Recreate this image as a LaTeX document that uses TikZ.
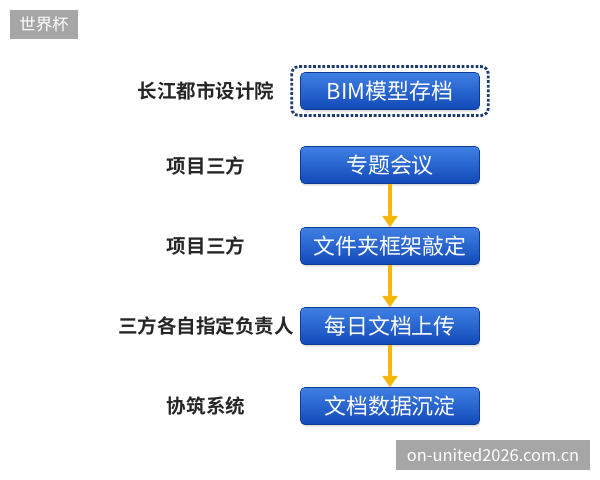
\documentclass[tikz,border=0pt]{standalone}
\usepackage{fontspec}
\setmainfont{Noto Sans CJK SC}[BoldFont={Noto Sans CJK SC Bold}]
\usetikzlibrary{arrows.meta,shadows}
\definecolor{boxtop}{HTML}{3F80E4}
\definecolor{boxbot}{HTML}{1249B8}
\definecolor{dotline}{HTML}{1D3C72}
\definecolor{flow}{HTML}{F5B70A}
\definecolor{tag}{HTML}{A6A6A6}
\tikzset{
  stepbox/.style={rounded corners=3pt, top color=boxtop, bottom color=boxbot,
    draw=boxbot!80!black, line width=0.4pt, text=white, font=\fontsize{15.6}{18}\selectfont,
    minimum width=4.475cm, minimum height=0.925cm, inner sep=0pt,
    drop shadow={shadow xshift=0.5pt, shadow yshift=-1.5pt, opacity=0.25}},
  who/.style={font=\bfseries\fontsize{13.9}{16}\selectfont, text=black!85},
  flowarrow/.style={draw=flow, line width=2.6pt, -{Triangle[width=10.5pt,length=8pt]}},
  tagbox/.style={fill=tag, text=white, inner sep=0pt, font=\fontsize{11.7}{13}\selectfont}
}
\begin{document}
\begin{tikzpicture}[x=0.025cm,y=-0.025cm]
  \useasboundingbox (0,0) rectangle (600,480);
  % corner tags
  \node[tagbox, minimum width=1.7cm, minimum height=0.725cm] (t1) at (44,24.5) {世界杯};
  \node[tagbox, minimum width=4.85cm, minimum height=0.75cm] (t2) at (493,455) {on-united2026.com.cn};
  % steps
  \draw
    (390,91) node[stepbox] (0){BIM模型存档}
    (390,165) node[stepbox] (1){专题会议}
    (390,246) node[stepbox] (2){文件夹框架敲定}
    (390,326) node[stepbox] (3){每日文档上传}
    (390,406) node[stepbox] (4){文档数据沉淀};
  \draw[dotline, line width=2pt, dash pattern=on 2pt off 1.3pt, rounded corners=5pt]
    ([xshift=-6pt,yshift=4pt]0.north west) rectangle ([xshift=6pt,yshift=-4pt]0.south east);
  % who does it
  \draw
    (206,91) node[who] (a){长江都市设计院}
    (206,166) node[who] (b){项目三方}
    (206,246) node[who] (c){项目三方}
    (206,326) node[who] (d){三方各自指定负责人}
    (206,406) node[who] (e){协筑系统};
  \begin{scope}[flowarrow]
    \draw (1) to (2);
    \draw (2) to (3);
    \draw (3) to (4);
  \end{scope}
\end{tikzpicture}
\end{document}
